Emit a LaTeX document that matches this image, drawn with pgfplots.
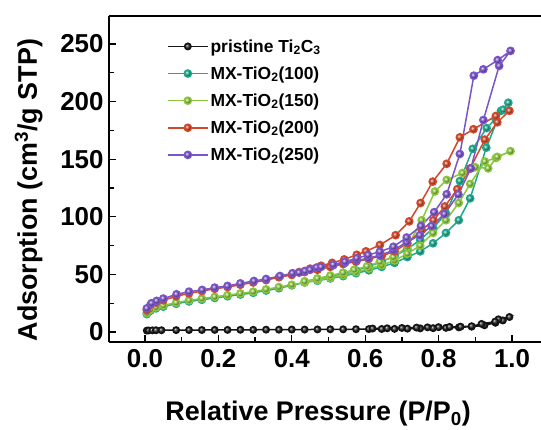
\documentclass[border=0pt]{standalone}
\usepackage{pgfplots}
\pgfplotsset{compat=1.18}
\usepackage{fontspec}
\setmainfont{Liberation Sans}
\definecolor{cblack}{RGB}{20,20,20}
\definecolor{cteal}{RGB}{32,168,140}
\definecolor{cgreen}{RGB}{140,198,62}
\definecolor{cred}{RGB}{210,72,42}
\definecolor{cpurple}{RGB}{122,84,200}
\begin{document}
\begin{tikzpicture}[x=1bp,y=1bp]
\begin{axis}[
  at={(109bp,88bp)}, anchor=south west,
  width=432bp, height=326bp, scale only axis,
  xmin=-0.098, xmax=1.079, ymin=-8.7, ymax=274.3,
  axis x line*=bottom, axis y line*=left,
  axis line style={line width=1.5bp},
  every tick/.style={line width=1.3bp, black},
  tick align=inside,
  major tick length=7bp, minor tick length=5bp,
  xtick={0,0.2,0.4,0.6,0.8,1.0},
  minor xtick={0.1,0.3,0.5,0.7,0.9},
  ytick={0,50,100,150,200,250},
  minor ytick={25,75,125,175,225},
  /pgf/number format/assume math mode=true,
  xticklabel style={/pgf/number format/fixed,/pgf/number format/fixed zerofill,/pgf/number format/precision=1},
  ticklabel style={font=\fontsize{26}{26}\selectfont\bfseries},
  xticklabel style={yshift=-4bp},
  yticklabel style={xshift=-2bp},
  xlabel={Relative Pressure (P/P\textsubscript{0})},
  ylabel={Adsorption (cm\textsuperscript{3}/g STP)},
  label style={font=\fontsize{27}{27}\selectfont\bfseries},
  xlabel style={at={(axis description cs:0.484,-0.242)}, anchor=base},
  ylabel style={at={(axis description cs:-0.167,0.466)}, anchor=base, rotate=0},
  legend style={at={(axis description cs:0.134,0.935)}, anchor=north west, draw=none, fill=none,
    font=\fontsize{17.5}{17.5}\selectfont\bfseries, row sep=9bp, inner sep=0pt,
    legend cell align=left},
  legend image code/.code={\draw[mark repeat=2,mark phase=2,#1] plot coordinates {(0bp,0bp) (20bp,0bp) (40bp,0bp)};},
  every axis plot/.append style={line width=1.5bp, mark=ball, mark size=3.6bp},
]
\addplot[cblack, mark options={ball color=cblack!90}, mark size=3.2bp] coordinates {
(0.005,1.2)(0.01,1.3)(0.02,1.4)(0.03,1.5)(0.045,1.5)(0.085,1.6)(0.12,1.7)(0.155,1.7)(0.19,1.8)(0.225,1.8)(0.26,1.9)(0.295,1.9)(0.33,2.0)(0.365,2.0)(0.4,2.1)(0.435,2.1)(0.47,2.2)(0.505,2.3)(0.54,2.3)(0.575,2.4)(0.61,2.5)(0.645,2.6)(0.68,2.7)(0.715,2.9)(0.75,3.1)(0.785,3.3)(0.82,3.6)(0.855,4.0)(0.89,4.6)(0.925,5.8)(0.955,8)(0.975,10)(0.993,13)
(0.963,11)(0.954,9)(0.917,7)(0.89,5)(0.86,4.6)(0.83,4.4)(0.8,4.2)(0.77,4)(0.74,3.8)(0.7,3.5)(0.66,3.2)(0.62,3.0)
};
\addlegendentry{pristine Ti\textsubscript{2}C\textsubscript{3}}
\addplot[cteal, mark options={ball color=cteal}] coordinates {
(0.005,15.5)(0.015,18.5)(0.03,20.5)(0.05,22)(0.085,24.5)(0.12,26.5)(0.155,28)(0.19,29.5)(0.225,31)(0.26,32.5)(0.295,34)(0.33,36)(0.365,38)(0.4,40.5)(0.435,43)(0.47,44.5)(0.505,46.5)(0.54,48.5)(0.575,51)(0.61,53.5)(0.645,56.5)(0.68,60)(0.715,65)(0.75,70)(0.785,77)(0.82,86)(0.855,97)(0.886,116)(0.93,160)(0.97,192)(0.99,199)
(0.976,193)(0.955,185)(0.931,177)(0.893,159)(0.858,131)(0.82,103)(0.785,90)(0.75,80)(0.715,72)(0.68,66)(0.645,61)(0.61,57)(0.575,53.5)(0.54,51)(0.505,48)(0.47,45.5)
};
\addlegendentry{MX-TiO\textsubscript{2}(100)}
\addplot[cgreen, mark options={ball color=cgreen}] coordinates {
(0.005,16.5)(0.015,19.5)(0.03,21.5)(0.05,23)(0.085,25.5)(0.12,27.5)(0.155,29)(0.19,30.5)(0.225,32)(0.26,33.5)(0.295,35)(0.33,37)(0.365,39)(0.4,41)(0.435,43)(0.47,45)(0.505,47)(0.54,49.5)(0.575,52)(0.61,55)(0.645,58)(0.68,62)(0.715,68)(0.75,75)(0.785,86)(0.82,97)(0.855,112)(0.886,128.5)(0.926,148)(0.956,151)(0.996,157)
(0.96,152)(0.935,142)(0.9,143)(0.865,138)(0.822,132)(0.79,122)(0.754,97)(0.715,74)(0.677,65)(0.64,61)(0.605,57)(0.57,54)(0.54,51.5)(0.505,49)(0.47,46.5)(0.435,44)
};
\addlegendentry{MX-TiO\textsubscript{2}(150)}
\addplot[cred, mark options={ball color=cred}] coordinates {
(0.005,19)(0.015,23.5)(0.03,25.5)(0.05,27.5)(0.085,31)(0.12,33.5)(0.155,35.5)(0.19,37.5)(0.225,39)(0.26,41)(0.295,43)(0.33,45)(0.365,47.5)(0.4,49.5)(0.435,52)(0.47,54)(0.505,56.5)(0.54,59)(0.575,61)(0.61,63.5)(0.645,66)(0.68,70)(0.715,77)(0.754,88.5)(0.786,97)(0.817,109)(0.851,124)(0.886,142)(0.926,167)(0.96,182)(0.993,192)
(0.956,187.5)(0.895,176)(0.858,169)(0.822,146)(0.784,130.5)(0.751,112)(0.72,96)(0.683,84)(0.64,75.5)(0.602,70)(0.577,67)(0.543,63)(0.51,60)(0.48,57.5)(0.45,55)(0.42,52)
};
\addlegendentry{MX-TiO\textsubscript{2}(200)}
\addplot[cpurple, mark options={ball color=cpurple}] coordinates {
(0.005,20.5)(0.018,25)(0.032,27)(0.05,29)(0.086,32.7)(0.12,35)(0.156,36.5)(0.19,38.5)(0.225,40)(0.26,42.2)(0.297,44.3)(0.33,46)(0.368,48.6)(0.402,51)(0.436,53)(0.468,56)(0.513,58)(0.545,60)(0.577,62)(0.608,64)(0.64,66.5)(0.677,71)(0.713,78)(0.749,84)(0.781,92)(0.816,102.4)(0.854,119.5)(0.888,142)(0.922,184)(0.965,231)(0.996,244)
(0.961,236)(0.922,228)(0.896,222.5)(0.858,154.5)(0.822,119.5)(0.788,104)(0.752,92)(0.713,82)(0.677,74)(0.64,69.7)(0.608,66.8)(0.577,64)(0.545,61)(0.513,58.5)(0.48,56.5)(0.45,54)(0.42,51.5)
};
\addlegendentry{MX-TiO\textsubscript{2}(250)}
\draw[line width=1.5bp] (rel axis cs:0,1) -- (rel axis cs:1,1);
\end{axis}
\pgfresetboundingbox
\path (0,0) rectangle (541bp,430bp);
\end{tikzpicture}
\end{document}
